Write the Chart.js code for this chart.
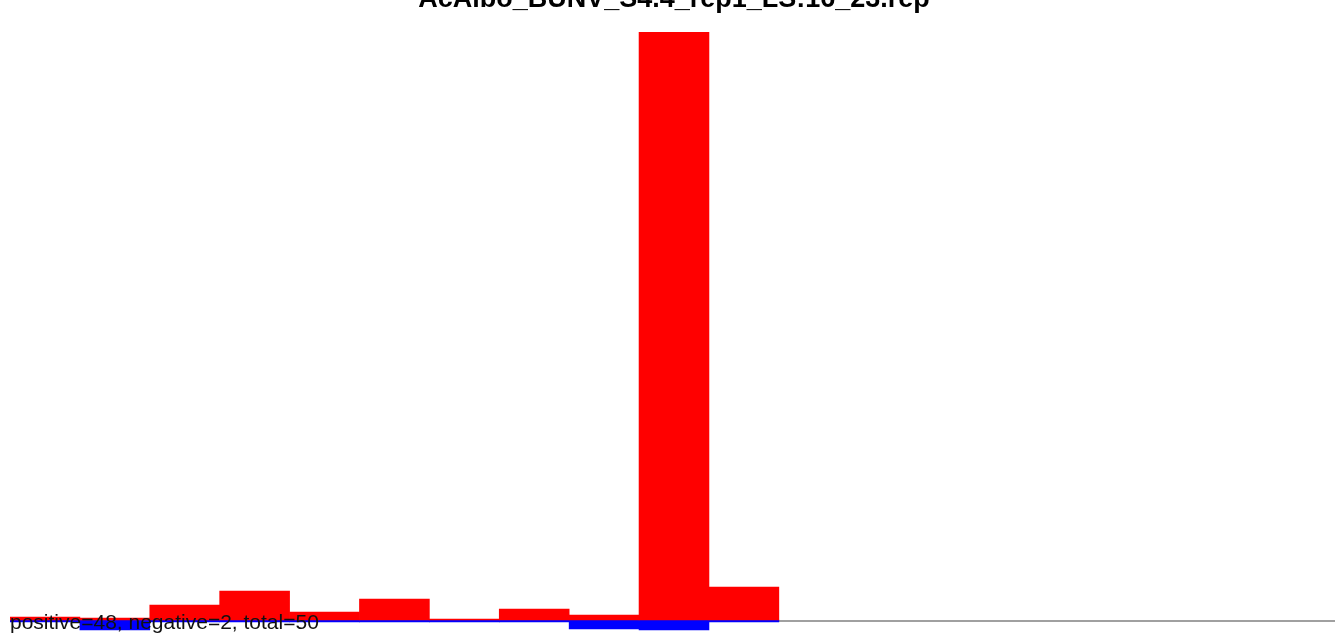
<!DOCTYPE html>
<html>
<head>
<meta charset="utf-8">
<script src="https://cdn.jsdelivr.net/npm/chart.js@4"></script>
<style>
  html, body { margin: 0; padding: 0; background: #fff; overflow: hidden; }
  #wrap { width: 1338px; height: 634px; }
</style>
</head>
<body>
<div id="wrap"><canvas id="repChart"></canvas></div>
<script>
// bins (19 in total, only the first 11 hold data)
const bins = ["0","1","2","3","4","5","6","7","8","9","10","11","12","13","14","15","16","17","18"];
const positiveVals = [1.5, 1, 7.5, 14.5, 4, 10.5, 0.5, 5.5, 2.5, 294, 16.5, null, null, null, null, null, null, null, null];
const negativeVals = [-1, -5, -1, -1, -1, -1, -1, -1, -4.5, -5, -1, null, null, null, null, null, null, null, null];
const titleText = "AcAlbo_BUNV_S4.4_rep1_LS:16_23.rep";
const footText = "positive=48, negative=2, total=50";

// Zero line + texts
const decor = {
  id: "decor",
  beforeDatasetsDraw(chart) {
    const { ctx, chartArea, scales } = chart;
    const y0 = scales.y.getPixelForValue(0);
    ctx.save();
    ctx.strokeStyle = "#a0a0a0";
    ctx.lineWidth = 2;
    ctx.beginPath();
    ctx.moveTo(chartArea.left, y0 + 1);
    ctx.lineTo(chartArea.right, y0 + 1);
    ctx.stroke();
    ctx.restore();
  },
  afterDraw(chart) {
    const { ctx, chartArea } = chart;
    ctx.save();
    ctx.fillStyle = "#000";
    ctx.font = "bold 27px 'Liberation Sans', Arial, sans-serif";
    ctx.textAlign = "center";
    ctx.textBaseline = "alphabetic";
    ctx.fillText(titleText, (chartArea.left + chartArea.right) / 2, 7);
    ctx.font = "21px 'Liberation Sans', Arial, sans-serif";
    ctx.textAlign = "left";
    ctx.fillStyle = "#111";
    ctx.fillText(footText, 10, 629);
    ctx.restore();
  }
};

new Chart(document.getElementById("repChart"), {
  type: "bar",
  data: {
    labels: bins,
    datasets: [
      { label: "positive", data: positiveVals, backgroundColor: "#ff0000", borderWidth: 0 },
      { label: "negative", data: negativeVals, backgroundColor: "#0000ff", borderWidth: 0 }
    ]
  },
  options: {
    responsive: true,
    maintainAspectRatio: false,
    animation: false,
    layout: { padding: { left: 10, top: 32, right: 0, bottom: 0 } },
    plugins: { legend: { display: false }, tooltip: { enabled: false } },
    datasets: { bar: { categoryPercentage: 1, barPercentage: 1 } },
    scales: {
      x: { stacked: true, display: false },
      y: { stacked: true, display: false, min: -7, max: 294 }
    }
  },
  plugins: [decor]
});
</script>
</body>
</html>
